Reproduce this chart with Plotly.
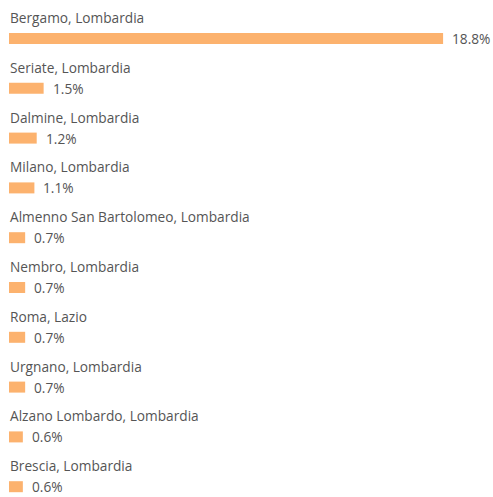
import plotly.graph_objects as go

places = ["Bergamo, Lombardia", "Seriate, Lombardia", "Dalmine, Lombardia", "Milano, Lombardia",
          "Almenno San Bartolomeo, Lombardia", "Nembro, Lombardia", "Roma, Lazio",
          "Urgnano, Lombardia", "Alzano Lombardo, Lombardia", "Brescia, Lombardia"]
shares = [18.8, 1.5, 1.2, 1.1, 0.7, 0.7, 0.7, 0.7, 0.6, 0.6]
value_labels = ["18.8%", "1.5%", "1.2%", "1.1%", "0.7%", "0.7%", "0.7%", "0.7%", "0.6%", "0.6%"]

W, H = 493, 497
ML = 9
px_per_unit = 23.09
row_px = 49.8
first_center = 38.5
bar_px = 11

bar_color = "#FCB26E"
text_color = "#555555"
font_family = "Open Sans, Noto Sans, sans-serif"
fsize = 13.7

ytop = -first_center / row_px
ybot = ytop + H / row_px

fig = go.Figure(go.Bar(
    x=shares, y=places, orientation="h",
    marker=dict(color=bar_color, line=dict(width=0)),
    width=bar_px / row_px,
    hoverinfo="skip",
))

for p, v, lab in zip(places, shares, value_labels):
    fig.add_annotation(x=0, y=p, xref="x", yref="y", text=p, showarrow=False,
                       xanchor="left", yanchor="middle", yshift=21, xshift=-1,
                       font=dict(size=fsize, color=text_color, family=font_family))
    fig.add_annotation(x=v, y=p, xref="x", yref="y", text=lab, showarrow=False,
                       xanchor="left", yanchor="middle", xshift=7,
                       font=dict(size=fsize, color=text_color, family=font_family))

fig.update_layout(
    width=W, height=H,
    margin=dict(l=ML, r=0, t=0, b=0),
    paper_bgcolor="white", plot_bgcolor="white",
    showlegend=False,
    xaxis=dict(range=[0, (W - ML) / px_per_unit], visible=False, fixedrange=True),
    yaxis=dict(range=[ybot, ytop], visible=False, type="category",
               categoryorder="array", categoryarray=places, fixedrange=True),
)

fig.write_html("out.html", config={"displayModeBar": False},
               post_script="document.body.style.margin='0';document.body.style.overflow='hidden';")
